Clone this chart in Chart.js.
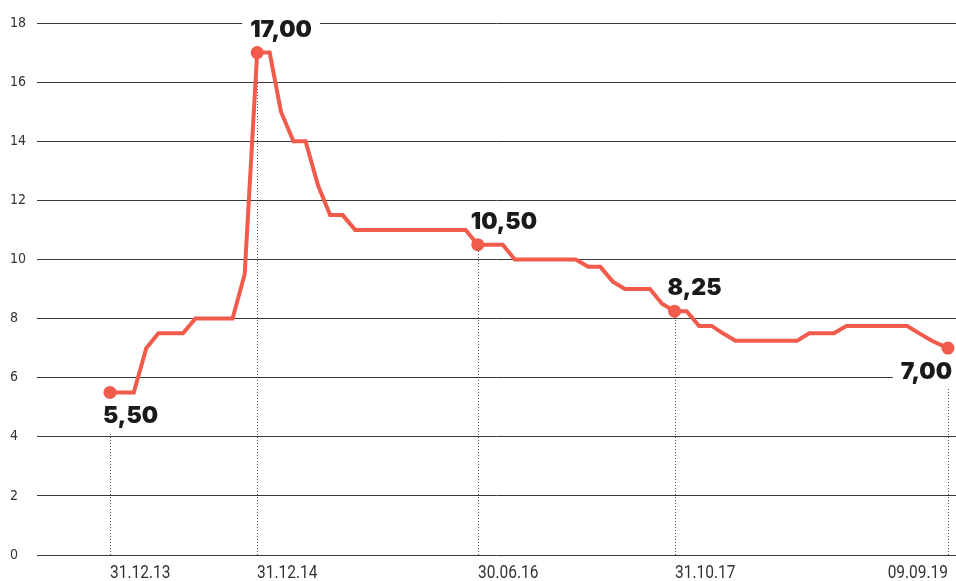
<!DOCTYPE html>
<html>
<head>
<meta charset="utf-8">
<script src="https://cdn.jsdelivr.net/npm/chart.js@4.4.1/dist/chart.umd.min.js"></script>
<style>
  html, body { margin: 0; padding: 0; background: #ffffff; }
  #wrap { width: 956px; height: 581px; position: relative; }
</style>
</head>
<body>
<div id="wrap"><canvas id="c" width="956" height="581"></canvas></div>
<script>
// ---- Data (key rate, % — month-end values) ----
const dates = [
  '2013-12-31','2014-01-31','2014-02-28','2014-03-31','2014-04-30','2014-05-31','2014-06-30',
  '2014-07-31','2014-08-31','2014-09-30','2014-10-31','2014-11-30','2014-12-31',
  '2015-01-31','2015-02-28','2015-03-31','2015-04-30','2015-05-31','2015-06-30',
  '2015-07-31','2015-08-31','2015-09-30','2015-10-31','2015-11-30','2015-12-31',
  '2016-01-31','2016-02-29','2016-03-31','2016-04-30','2016-05-31','2016-06-30',
  '2016-07-31','2016-08-31','2016-09-30','2016-10-31','2016-11-30','2016-12-31',
  '2017-01-31','2017-02-28','2017-03-31','2017-04-30','2017-05-31','2017-06-30',
  '2017-07-31','2017-08-31','2017-09-30','2017-10-31','2017-11-30','2017-12-31',
  '2018-01-31','2018-02-28','2018-03-31','2018-04-30','2018-05-31','2018-06-30',
  '2018-07-31','2018-08-31','2018-09-30','2018-10-31','2018-11-30','2018-12-31',
  '2019-01-31','2019-02-28','2019-03-31','2019-04-30','2019-05-31','2019-06-30',
  '2019-07-31','2019-09-09'
];
const rates = [
  5.5, 5.5, 5.5, 7.0, 7.5, 7.5, 7.5,
  8.0, 8.0, 8.0, 8.0, 9.5, 17.0,
  17.0, 15.0, 14.0, 14.0, 12.5, 11.5,
  11.5, 11.0, 11.0, 11.0, 11.0, 11.0,
  11.0, 11.0, 11.0, 11.0, 11.0, 10.5,
  10.5, 10.5, 10.0, 10.0, 10.0, 10.0,
  10.0, 10.0, 9.75, 9.75, 9.25, 9.0,
  9.0, 9.0, 8.5, 8.25, 8.25, 7.75,
  7.75, 7.5, 7.25, 7.25, 7.25, 7.25,
  7.25, 7.25, 7.5, 7.5, 7.5, 7.75,
  7.75, 7.75, 7.75, 7.75, 7.75, 7.5,
  7.25, 7.0
];
const markerDates  = ['2013-12-31','2014-12-31','2016-06-30','2017-10-31','2019-09-09'];
const markerValues = [5.5, 17.0, 10.5, 8.25, 7.0];
const markerLabels = ['5,50', '17,00', '10,50', '8,25', '7,00'];
const tickDates  = ['2013-12-31','2014-12-31','2016-06-30','2017-10-31','2019-09-09'];
const tickLabels = ['31.12.13', '31.12.14', '30.06.16', '31.10.17', '09.09.19'];
const yTicks = [0, 2, 4, 6, 8, 10, 12, 14, 16, 18];
const xRange = ['2013-07-03', '2019-09-29'];

// ---- helpers ----
const toDay = s => { const [y, m, d] = s.split('-').map(Number); return Date.UTC(y, m - 1, d) / 86400000; };
const RED = '#f15b4b';
const LABEL_FONT = "900 23px Inter, Lato, sans-serif";
const TICK_FAMILY = "'Liberation Sans Narrow', 'DejaVu Sans Condensed', 'Roboto', sans-serif";
const XTICK_FONT = "18px Roboto, 'Liberation Sans', sans-serif";
const XTICK_SQUEEZE = 0.86;

const lineData = dates.map((d, i) => ({ x: toDay(d), y: rates[i] }));
const markerData = markerDates.map((d, i) => ({ x: toDay(d), y: markerValues[i] }));

const annotPlugin = {
  id: 'annot',
  beforeDatasetsDraw(chart) {
    const { ctx, scales: { x, y }, chartArea } = chart;
    ctx.save();
    ctx.font = LABEL_FONT;
    const boxes = markerData.map((p, i) => {
      const px = x.getPixelForValue(p.x), py = y.getPixelForValue(p.y);
      const w = ctx.measureText(markerLabels[i]).width;
      const below = (i === 0 || i === markerData.length - 1);
      const base = below ? py + 31 : py - 16;
      let left = px - 7;
      if (left + w > chartArea.right) left = chartArea.right - 4 - w;
      return { px, py, w, base, left, below, top: base - 17 };
    });
    // dotted guide lines
    ctx.strokeStyle = '#555';
    ctx.lineWidth = 1;
    ctx.setLineDash([1, 2]);
    boxes.forEach(b => {
      const yTop = b.below ? b.base + 9 : b.py;
      const xx = Math.round(b.px) + 0.5;
      ctx.beginPath();
      ctx.moveTo(xx, chartArea.bottom);
      ctx.lineTo(xx, yTop);
      ctx.stroke();
    });
    ctx.setLineDash([]);
    // labels with white backing
    ctx.textBaseline = 'alphabetic';
    ctx.textAlign = 'left';
    boxes.forEach((b, i) => {
      ctx.fillStyle = '#ffffff';
      ctx.fillRect(b.left - 8, b.top - 3, b.w + 16, 22);
      ctx.fillStyle = '#1a1a1a';
      ctx.fillText(markerLabels[i], b.left, b.base);
    });
    ctx.restore();
  },
  afterDraw(chart) {
    const { ctx, scales: { x }, chartArea } = chart;
    ctx.save();
    ctx.font = XTICK_FONT;
    ctx.fillStyle = '#333333';
    ctx.textBaseline = 'alphabetic';
    tickDates.forEach((d, i) => {
      const px = Math.round(x.getPixelForValue(toDay(d)));
      const w = ctx.measureText(tickLabels[i]).width * XTICK_SQUEEZE;
      ctx.save();
      ctx.translate(px, 578);
      ctx.scale(XTICK_SQUEEZE, 1);
      ctx.textAlign = (px + w > chartArea.right) ? 'right' : 'left';
      ctx.fillText(tickLabels[i], 0, 0);
      ctx.restore();
    });
    ctx.restore();
  }
};

new Chart(document.getElementById('c'), {
  type: 'line',
  data: {
    datasets: [
      {
        data: markerData,
        showLine: false,
        pointRadius: 6.5,
        pointBackgroundColor: RED,
        pointBorderWidth: 0,
        order: 0
      },
      {
        data: lineData,
        borderColor: RED,
        borderWidth: 4,
        pointRadius: 0,
        tension: 0,
        fill: false,
        borderJoinStyle: 'miter',
        order: 1
      }
    ]
  },
  options: {
    responsive: false,
    animation: false,
    events: [],
    layout: { autoPadding: false, padding: { left: 10, right: 0, top: 23, bottom: 26 } },
    plugins: { legend: { display: false }, tooltip: { enabled: false } },
    scales: {
      x: {
        type: 'linear',
        display: false,
        min: toDay(xRange[0]),
        max: toDay(xRange[1])
      },
      y: {
        min: 0,
        max: 18,
        afterBuildTicks: s => { s.ticks = yTicks.map(v => ({ value: v })); },
        afterFit: s => { s.width = 27; },
        border: { display: false },
        grid: { color: '#3a3a3a', lineWidth: 1, drawTicks: false },
        ticks: {
          crossAlign: 'far',
          padding: 0,
          color: '#333333',
          font: { family: TICK_FAMILY, size: 14 },
          callback: v => String(v)
        }
      }
    }
  },
  plugins: [annotPlugin]
});
</script>
</body>
</html>
